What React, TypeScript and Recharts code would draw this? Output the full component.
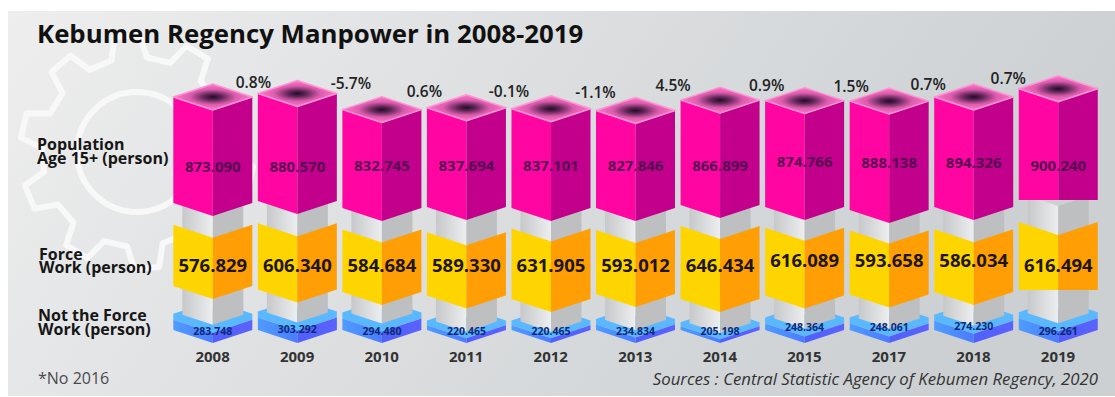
import React from "react";
import { BarChart, Bar, XAxis, YAxis } from "recharts";

// Kebumen manpower figures, persons per year (no 2016 survey)
const years = ["2008", "2009", "2010", "2011", "2012", "2013", "2014", "2015", "2017", "2018", "2019"];
const population = [873090, 880570, 832745, 837694, 837101, 827846, 866899, 874766, 888138, 894326, 900240];
const workForce = [576829, 606340, 584684, 589330, 631905, 593012, 646434, 616089, 593658, 586034, 616494];
const notWorkForce = [283748, 303292, 294480, 220465, 220465, 234834, 205198, 248364, 248061, 274230, 296261];
const growth = ["", "0.8%", "-5.7%", "0.6%", "-0.1%", "-1.1%", "4.5%", "0.9%", "1.5%", "0.7%", "0.7%"];

const rows = years.map((year, i) => ({
  year,
  population: population[i],
  workForce: workForce[i],
  notWorkForce: notWorkForce[i],
  growth: growth[i],
}));

// Canvas and plot frame
const W = 1115;
const H = 397;
const PLOT_TOP = 60;
const PLOT_BOTTOM = 345;
const COLUMN = 79;
const ISO = 13;
const FONT = "'Open Sans', Lato, sans-serif";

// Every tier has its own pictorial scale: a floor value sits on basePx, and each person adds slope px
const tierDomain = (floor: number, basePx: number, slope: number): [number, number] => [
  floor - (PLOT_BOTTOM - basePx) / slope,
  floor + (basePx - PLOT_TOP) / slope,
];
const PINK_FLOOR = 315000;
const AMBER_FLOOR = 217000;
const BLUE_FLOOR = 135000;
const pinkDomain = tierDomain(PINK_FLOOR, 207, 0.00019);
const amberDomain = tierDomain(AMBER_FLOOR, 294, 0.00017);
const blueDomain = tierDomain(BLUE_FLOOR, 330, 0.00011);

// Hand placement of the stacked blocks, in px per year
const pinkDrop = [-4, -6, 1, 0, 1, 1, -2, 0, 3, 0, -7];
const amberDrop = [-8, -4.5, -2, 1.6, 5, 0, 5, 1.5, 0.5, -2, -4];
const pinkLabelDy = [1, 1, 0, 0, 0, 0, 0, -4, -3, -3, 0];
const amberLabelDy = [0, 0, 0, 0, 0, 0, 0, -5, -5, -5, 0];
const blueLabelDy = [2, 0, 2, 2, 2, 2, 2, -2, -2, -3, 2];
const growthOffset: [number, number][] = [
  [0, 0], [-44, -10], [-31, -25], [-42, -15], [-42, -16], [-40, -17],
  [-47, -13], [-38, -14], [-38, -13], [-45.5, -11], [-50, -9],
];

const FLAT_BOTTOM_YEAR = "2019";
const dotted = (n: number) => n.toLocaleString("de-DE");
const pts = (p: number[][]) => p.map((q) => q.join(",")).join(" ");

// Two front faces of an isometric block; the final year ends in a straight lower edge
function Faces({ x, top, bottom, w, flat, left, right }: any) {
  const cx = x + w / 2;
  const drop = (ISO * w) / COLUMN;
  const lowC = flat ? bottom : bottom + drop;
  return (
    <g>
      <polygon points={pts([[x, top], [cx, top + drop], [cx, lowC], [x, bottom]])} fill={left} />
      <polygon points={pts([[cx, top + drop], [x + w, top], [x + w, bottom], [cx, lowC]])} fill={right} />
    </g>
  );
}

function BlueBlock(props: any) {
  const { x, y, height, payload, index } = props;
  const bottom = y + height;
  const cx = x + COLUMN / 2;
  const spineW = 61;
  const sx = cx - spineW / 2;
  const lip = Math.min(6, height * 0.5);
  return (
    <g>
      <polygon
        points={pts([[x, y], [sx, y - 3], [sx + spineW, y - 3], [x + COLUMN, y], [x + COLUMN, y + lip], [cx, y + ISO + lip], [x, y + lip]])}
        fill="#5ab8ff"
      />
      <Faces x={x} top={y + lip} bottom={bottom} w={COLUMN} left="url(#blueLeft)" right="url(#blueRight)" />
      <Faces x={sx} top={196} bottom={y + 1} w={spineW} left="url(#spineLeft)" right="#bdbfc1" />
      <text x={cx} y={330 + blueLabelDy[index]} textAnchor="middle" dominantBaseline="middle"
        fontFamily={FONT} fontWeight={700} fontSize={10.5} fill="#0b2a78">
        {dotted(payload.notWorkForce)}
      </text>
    </g>
  );
}

function AmberBlock(props: any) {
  const { x, y, height, payload, index } = props;
  const shift = amberDrop[index];
  const cx = x + COLUMN / 2;
  return (
    <g>
      <g transform={`translate(0 ${shift})`}>
        <Faces x={x} top={y} bottom={y + height} w={COLUMN} flat={payload.year === FLAT_BOTTOM_YEAR}
          left="#ffd500" right="#ff9f05" />
      </g>
      <text x={cx} y={267 + amberLabelDy[index]} textAnchor="middle" dominantBaseline="middle"
        fontFamily={FONT} fontWeight={700} fontSize={18.5} fill="#1d1608">
        {dotted(payload.workForce)}
      </text>
    </g>
  );
}

function PinkBlock(props: any) {
  const { x, y, height, payload, index } = props;
  const shift = pinkDrop[index];
  const cx = x + COLUMN / 2;
  const top = y + shift;
  const [dx, dy] = growthOffset[index];
  return (
    <g>
      <g transform={`translate(0 ${shift})`}>
        <Faces x={x} top={y} bottom={y + height} w={COLUMN} flat={payload.year === FLAT_BOTTOM_YEAR}
          left="#ff05a2" right="#c2008b" />
        <polygon points={pts([[x, y], [cx, y - ISO], [x + COLUMN, y], [cx, y + ISO]])}
          fill="url(#pinkCap)" stroke="#ff94d4" strokeWidth={1.5} strokeLinejoin="round" />
      </g>
      <text x={cx} y={167 + pinkLabelDy[index]} textAnchor="middle" dominantBaseline="middle"
        fontFamily={FONT} fontWeight={700} fontSize={15} fill="#560852">
        {dotted(payload.population)}
      </text>
      {payload.growth && (
        <text x={cx + dx} y={top + dy} textAnchor="middle" dominantBaseline="middle"
          fontFamily={FONT} fontWeight={600} fontSize={15.5} fill="#222">
          {payload.growth}
        </text>
      )}
    </g>
  );
}

// Cog outline used as a watermark behind the row titles
function cogPath(cx: number, cy: number, outer: number, inner: number, teeth: number, turn: number) {
  const step = (Math.PI * 2) / teeth;
  const out: string[] = [];
  for (let i = 0; i < teeth; i++) {
    const a = i * step + turn;
    const corners: [number, number][] = [
      [inner, a - step * 0.3], [outer, a - step * 0.17], [outer, a + step * 0.17], [inner, a + step * 0.3],
    ];
    corners.forEach(([r, t]) => {
      out.push(`${out.length ? "L" : "M"}${(cx + r * Math.cos(t)).toFixed(1)} ${(cy + r * Math.sin(t)).toFixed(1)}`);
    });
  }
  return out.join(" ") + " Z";
}

// Two-line row caption with a tight leading
function RowTitle({ x, y, lines, leading }: { x: number; y: number; lines: string[]; leading: number }) {
  return (
    <text x={x} y={y} fontFamily={FONT} fontWeight={700} fontSize={16} fill="#161616">
      {lines.map((line, i) => (
        <tspan key={line} x={x} dy={i === 0 ? 0 : leading}>{line}</tspan>
      ))}
    </text>
  );
}

export default function App() {
  return (
    <div style={{ position: "absolute", left: 0, top: 0, width: W, height: H, background: "#fff", overflow: "hidden" }}>
      <svg width={W} height={H} style={{ position: "absolute", left: 0, top: 0 }}>
        <defs>
          <linearGradient id="panel" x1="0" y1="0" x2="1" y2="0.25">
            <stop offset="0" stopColor="#eeeeee" />
            <stop offset="0.5" stopColor="#dcdee0" />
            <stop offset="1" stopColor="#ccd0d2" />
          </linearGradient>
        </defs>
        <rect x={8} y={11} width={W - 8} height={385} fill="url(#panel)" />
        <path d={cogPath(137, 152, 117, 95, 10, 0.23)} fill="none" stroke="#f8f8f8" strokeWidth={6} strokeLinejoin="round" />
        <circle cx={137} cy={152} r={60} fill="none" stroke="#f8f8f8" strokeWidth={6} />
        <text x={37} y={43} fontFamily={FONT} fontWeight={700} fontSize={25.8} fill="#111">
          Kebumen Regency Manpower in 2008-2019
        </text>
        <RowTitle x={37} y={150} lines={["Population", "Age 15+ (person)"]} leading={14} />
        <RowTitle x={39} y={260} lines={["Force", "Work (person)"]} leading={13} />
        <RowTitle x={38} y={321} lines={["Not the Force", "Work (person)"]} leading={14} />
        <text x={38} y={384} fontFamily={FONT} fontSize={16} fill="#4a4a4a">*No 2016</text>
        <text x={1098} y={385} textAnchor="end" fontFamily={FONT} fontStyle="italic" fontSize={16.8} fill="#333">
          Sources : Central Statistic Agency of Kebumen Regency, 2020
        </text>
      </svg>
      <div style={{ position: "absolute", left: 0, top: 0 }}>
        <BarChart width={W} height={H} data={rows} barSize={COLUMN}
          margin={{ top: PLOT_TOP, right: 14.7, bottom: H - PLOT_BOTTOM - 30, left: 170.3 }}>
          <defs>
            <radialGradient id="pinkCap" cx="0.5" cy="0.5" r="0.5">
              <stop offset="0" stopColor="#260a2c" />
              <stop offset="0.22" stopColor="#5c2453" />
              <stop offset="0.58" stopColor="#dc5cae" />
              <stop offset="1" stopColor="#ff7ac6" />
            </radialGradient>
            <linearGradient id="blueLeft" x1="0" y1="0" x2="1" y2="0">
              <stop offset="0" stopColor="#4f9cff" />
              <stop offset="1" stopColor="#4a7cff" />
            </linearGradient>
            <linearGradient id="blueRight" x1="0" y1="0" x2="1" y2="0">
              <stop offset="0" stopColor="#4f60f8" />
              <stop offset="1" stopColor="#5b62ff" />
            </linearGradient>
            <linearGradient id="spineLeft" x1="0" y1="0" x2="1" y2="0">
              <stop offset="0" stopColor="#c6c8ca" />
              <stop offset="1" stopColor="#eceef0" />
            </linearGradient>
          </defs>
          <XAxis xAxisId="amber" dataKey="year" hide height={0} />
          <XAxis xAxisId="pink" dataKey="year" hide height={0} />
          <XAxis xAxisId="blue" dataKey="year" axisLine={false} tickLine={false} height={30} tickMargin={0}
            tick={{ fontFamily: FONT, fontWeight: 700, fontSize: 15, fill: "#333" }} interval={0} />
          <YAxis yAxisId="blue" hide domain={blueDomain} allowDataOverflow />
          <YAxis yAxisId="amber" hide domain={amberDomain} allowDataOverflow />
          <YAxis yAxisId="pink" hide domain={pinkDomain} allowDataOverflow />
          <Bar xAxisId="blue" yAxisId="blue" dataKey={(d: any) => [BLUE_FLOOR, d.notWorkForce]}
            shape={<BlueBlock />} isAnimationActive={false} />
          <Bar xAxisId="amber" yAxisId="amber" dataKey={(d: any) => [AMBER_FLOOR, d.workForce]}
            shape={<AmberBlock />} isAnimationActive={false} />
          <Bar xAxisId="pink" yAxisId="pink" dataKey={(d: any) => [PINK_FLOOR, d.population]}
            shape={<PinkBlock />} isAnimationActive={false} />
        </BarChart>
      </div>
    </div>
  );
}
